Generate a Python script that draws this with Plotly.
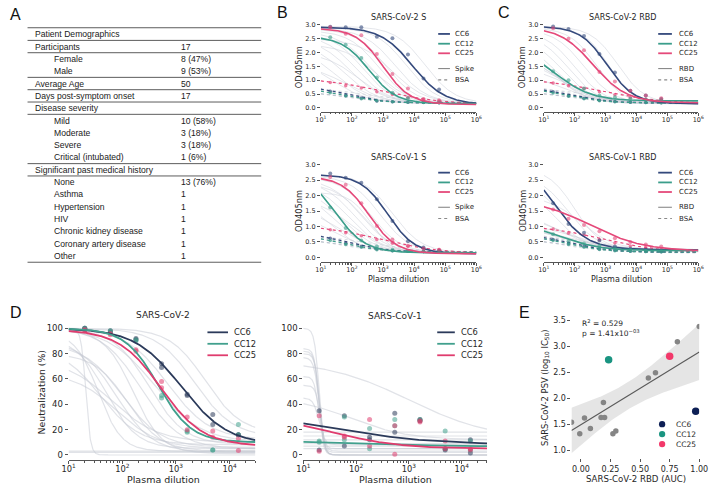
import numpy as np
import plotly.graph_objects as go

W, H = 720, 486
FONT = "DejaVu Sans"
TXT = "#262626"
CC = ["CC6", "CC12", "CC25"]

# ---------------- A: demographics table ----------------
TABLE_LABELS = ["Patient Demographics", "Participants", "Female", "Male", "Average Age",
                "Days post-symptom onset", "Disease severity", "Mild", "Moderate", "Severe",
                "Critical (intubated)", "Significant past medical history", "None", "Asthma",
                "Hypertension", "HIV", "Chronic kidney disease", "Coronary artery disease", "Other"]
TABLE_VALUES = ["", "17", "8 (47%)", "9 (53%)", "50", "17", "", "10 (58%)", "3 (18%)",
                "3 (18%)", "1 (6%)", "", "13 (76%)", "1", "1", "1", "1", "1", "1"]
TABLE_INDENT = [0, 0, 1, 1, 0, 0, 0, 1, 1, 1, 1, 0, 1, 1, 1, 1, 1, 1, 1]
TABLE_RULES_AFTER = [0, 1, 3, 4, 5, 6, 10, 11, 18]

# ---------------- B / C: ELISA (OD405nm) ----------------
# fitted curves given as [top, bottom, log10 EC50, hill]
ELISA_DIL = [20, 63, 200, 632, 2000, 6325, 20000, 63246]

S2S_FIT = {"CC6": [2.92, 0.12, 3.95, 0.85], "CC12": [2.58, 0.15, 2.55, 1.0], "CC25": [2.88, 0.12, 3.0, 1.0]}
S2S_PTS = {"CC6": [2.93, 2.92, 2.92, 2.57, 2.52, 1.93, 1.06, 0.66],
           "CC12": [2.55, 2.28, 1.80, 1.10, 0.55, 0.35, 0.22, 0.20],
           "CC25": [2.92, 2.68, 2.63, 1.95, 1.22, 0.70, 0.32, 0.27]}
S2S_BSA_FIT = {"CC6": [0.78, 0.17, 1.9, 0.75], "CC12": [0.72, 0.17, 1.8, 0.7], "CC25": [1.08, 0.12, 3.0, 0.45]}
S2S_BSA_PTS = {"CC6": [0.60, 0.45, 0.36, 0.25, 0.22, 0.20, 0.20, 0.18],
               "CC12": [0.55, 0.43, 0.33, 0.26, 0.22, 0.20, 0.19, 0.18],
               "CC25": [0.92, 0.80, 0.72, 0.58, 0.48, 0.37, 0.30, 0.25]}
S2S_GREY = [[2.95, 0.15, 4.35, 0.9], [2.9, 0.15, 3.75, 0.9], [2.88, 0.15, 3.4, 0.85],
            [2.85, 0.15, 3.1, 0.9], [2.8, 0.15, 2.85, 0.9], [2.75, 0.15, 2.6, 0.85],
            [2.7, 0.15, 2.35, 0.9], [2.65, 0.15, 2.15, 0.85], [2.55, 0.15, 1.95, 0.8],
            [2.4, 0.15, 1.75, 0.8], [2.3, 0.15, 2.8, 0.8], [2.2, 0.15, 1.5, 0.8],
            [2.0, 0.15, 2.2, 0.8], [1.8, 0.15, 1.4, 0.75], [1.6, 0.15, 1.8, 0.7],
            [2.5, 0.15, 3.3, 0.8]]

S1S_FIT = {"CC6": [2.68, 0.12, 3.15, 1.0], "CC12": [2.8, 0.15, 1.45, 0.9], "CC25": [2.62, 0.12, 2.55, 1.0]}
S1S_PTS = {"CC6": [2.72, 2.58, 2.42, 1.88, 1.18, 0.52, 0.32, 0.22],
           "CC12": [1.62, 0.95, 0.55, 0.35, 0.25, 0.22, 0.20, 0.18],
           "CC25": [2.60, 2.35, 1.75, 1.02, 0.58, 0.38, 0.28, 0.25]}
S1S_BSA_FIT = {"CC6": [0.8, 0.17, 1.9, 0.7], "CC12": [0.72, 0.17, 1.8, 0.7], "CC25": [1.06, 0.12, 2.9, 0.45]}
S1S_BSA_PTS = {"CC6": [0.62, 0.46, 0.35, 0.27, 0.22, 0.20, 0.19, 0.18],
               "CC12": [0.55, 0.42, 0.33, 0.25, 0.22, 0.20, 0.19, 0.18],
               "CC25": [0.90, 0.80, 0.70, 0.58, 0.46, 0.36, 0.30, 0.26]}
S1S_GREY = [[2.7, 0.15, 3.3, 0.9], [2.65, 0.15, 2.9, 0.9], [2.6, 0.15, 2.6, 0.9],
            [2.55, 0.15, 2.3, 0.85], [2.5, 0.15, 2.1, 0.85], [2.45, 0.15, 1.9, 0.8],
            [2.3, 0.15, 1.7, 0.8], [2.2, 0.15, 1.5, 0.8], [2.1, 0.15, 2.6, 1.3],
            [2.0, 0.15, 1.3, 0.8], [1.9, 0.15, 2.0, 0.8], [1.7, 0.15, 1.6, 0.7],
            [2.4, 0.15, 2.4, 0.9], [1.5, 0.15, 1.4, 0.7]]

S2R_FIT = {"CC6": [2.95, 0.15, 3.05, 1.0], "CC12": [2.2, 0.25, 1.4, 0.75], "CC25": [2.93, 0.18, 2.6, 0.8]}
S2R_PTS = {"CC6": [2.94, 2.85, 2.60, 1.95, 1.28, 0.62, 0.45, 0.32],
           "CC12": [1.32, 1.00, 0.70, 0.45, 0.38, 0.33, 0.30, 0.28],
           "CC25": [2.88, 2.50, 2.08, 1.30, 0.95, 0.62, 0.45, 0.35]}
S2R_BSA_FIT = {"CC6": [0.75, 0.17, 1.9, 0.7], "CC12": [0.72, 0.17, 1.8, 0.7], "CC25": [1.05, 0.15, 2.9, 0.45]}
S2R_BSA_PTS = {"CC6": [0.58, 0.44, 0.35, 0.27, 0.23, 0.20, 0.19, 0.18],
               "CC12": [0.54, 0.42, 0.33, 0.26, 0.22, 0.20, 0.19, 0.18],
               "CC25": [0.90, 0.80, 0.70, 0.58, 0.47, 0.37, 0.31, 0.27]}
S2R_GREY = [[2.95, 0.15, 3.4, 1.0], [2.9, 0.15, 2.7, 1.0], [2.85, 0.15, 2.3, 0.9],
            [2.8, 0.15, 2.0, 0.9], [2.7, 0.15, 1.8, 0.9], [2.6, 0.15, 1.6, 0.85],
            [2.5, 0.15, 1.4, 0.8], [2.4, 0.15, 1.3, 0.8], [2.6, 0.15, 1.2, 0.8],
            [2.2, 0.18, 1.3, 0.7], [2.0, 0.18, 1.5, 0.7], [1.8, 0.18, 1.6, 0.7],
            [1.5, 0.18, 1.8, 0.7], [1.4, 0.2, 1.4, 0.65], [2.9, 0.15, 3.1, 1.1]]

S1R_FIT = {"CC6": [3.3, 0.25, 1.3, 0.8], "CC12": [1.1, 0.22, 1.6, 0.7], "CC25": [1.9, 0.2, 2.5, 0.5]}
S1R_PTS = {"CC6": [1.75, 1.08, 0.80, 0.55, 0.35, 0.28, 0.25, 0.22],
           "CC12": [0.75, 0.52, 0.45, 0.38, 0.30, 0.25, 0.22, 0.20],
           "CC25": [1.55, 1.25, 1.05, 0.85, 0.62, 0.50, 0.42, 0.35]}
S1R_BSA_FIT = {"CC6": [0.75, 0.17, 1.9, 0.7], "CC12": [0.72, 0.17, 1.8, 0.7], "CC25": [1.05, 0.15, 2.9, 0.45]}
S1R_BSA_PTS = {"CC6": [0.58, 0.45, 0.36, 0.27, 0.23, 0.20, 0.19, 0.18],
               "CC12": [0.55, 0.42, 0.33, 0.26, 0.22, 0.20, 0.19, 0.18],
               "CC25": [0.92, 0.78, 0.72, 0.57, 0.47, 0.37, 0.31, 0.26]}
S1R_GREY = [[2.9, 0.25, 2.0, 1.0], [2.7, 0.25, 1.8, 0.9], [2.5, 0.25, 1.6, 0.9],
            [2.3, 0.25, 1.4, 0.9], [2.0, 0.25, 2.2, 0.8], [1.5, 0.25, 1.5, 0.7],
            [1.35, 0.25, 1.7, 0.7], [1.25, 0.25, 1.4, 0.7], [1.15, 0.25, 1.9, 0.6],
            [1.1, 0.22, 1.5, 0.6], [1.0, 0.22, 1.7, 0.6], [0.95, 0.22, 2.0, 0.6]]

ELISA_GREY_BSA = [[0.80, 0.15, 2.0, 0.7], [0.72, 0.16, 1.8, 0.7], [0.68, 0.15, 2.2, 0.6],
                  [0.65, 0.18, 1.6, 0.7], [0.60, 0.16, 1.9, 0.6], [0.55, 0.17, 2.3, 0.6],
                  [0.85, 0.15, 1.7, 0.6], [0.75, 0.18, 2.5, 0.55]]

# ---------------- D: pseudovirus neutralization (%) ----------------
NEUT_DIL = [20, 60, 180, 540, 1620, 4860, 14580]
D2_FIT = {"CC6": [100, 8, 3.1, 1.0], "CC12": [100, 10, 2.67, 1.4], "CC25": [99, 7, 2.72, 1.1]}
D2_REP1 = {"CC6": [100, 98, 91, 72, 47, 32, 16], "CC12": [100, 98, 91, 47, 18, 4, 24],
           "CC25": [99, 95, 83, 58, 30, 19, 13]}
D2_REP2 = {"CC6": [100, 97, 92, 69, 48, 24, 16], "CC12": [99, 97, 90, 45, 19, 4, 16],
           "CC25": [98, 96, 82, 53, 20, 14, 3.5]}
D2_GREY = [[100, 0, 1.32, 10], [97, 3, 1.55, 2.0], [93, 5, 1.7, 1.5], [90, 2, 1.9, 1.3],
           [88, 6, 2.0, 1.2], [85, 8, 1.6, 1.2], [80, 3, 2.1, 1.4], [76, 10, 1.8, 1.0],
           [65, 5, 1.9, 1.1], [100, 5, 2.35, 1.2], [100, 8, 2.5, 1.3], [100, 10, 2.6, 1.0],
           [100, 14, 3.35, 1.2], [100, 17, 3.55, 1.3], [100, 12, 2.85, 1.1], [99, 1, 2.2, 1.6],
           [3, 3, 2.0, 1.0], [2, 2, 2.0, 1.0]]

D1_FIT = {"CC6": [35, 8, 1.5, 0.45], "CC12": [11, 6.5, 2.5, 0.5], "CC25": [30, 5, 1.6, 0.7]}
D1_REP1 = {"CC6": [35, 31, 14, 33, 28, 5, 12], "CC12": [11, 30, 21, 28, 28, 19, 11],
           "CC25": [31, 15, 28, 23, 27, 11, 5]}
D1_REP2 = {"CC6": [4, 7, 12, 18, 27, 4, 1.5], "CC12": [10, 12, 5, 23, 27, 5, 4],
           "CC25": [3, 14, 7, 0.5, 26, 5, 4]}
D1_GREY = [[100, 0, 1.3, 10], [84, 0, 1.3, 10], [82, 2, 1.3, 10], [80, 0, 1.31, 10],
           [77, 3, 1.3, 9], [62, 0, 1.3, 10], [55, 5, 1.32, 10], [45, 8, 1.3, 8],
           [75, 12, 3.0, 0.55], [46, 12, 1.9, 0.8], [18, 18, 2, 1], [15, 15, 2, 1],
           [12, 12, 2, 1], [9, 9, 2, 1], [7, 7, 2, 1], [5, 5, 2, 1]]

# ---------------- E: correlation ----------------
E_AUC = [-0.08, -0.01, 0.03, 0.08, 0.17, 0.19, 0.20, 0.27, 0.295, 0.57, 0.63, 0.815, 1.0,
         0.97, 0.234, 0.75]
E_IC50 = [1.54, 1.32, 1.62, 1.42, 1.63, 1.92, 1.63, 1.32, 1.37, 2.39, 2.49, 3.09, 3.38,
          1.75, 2.74, 2.81]
E_DONOR = [""] * 13 + ["CC6", "CC12", "CC25"]

ELISA_COL = {"CC6": "#34497c", "CC12": "#3b9e8b", "CC25": "#e5497a"}
NEUT_COL = {"CC6": "#2b3a5a", "CC12": "#41a08d", "CC25": "#e03c6e"}
E_COL = {"CC6": "#0d1f55", "CC12": "#1a9481", "CC25": "#f2386a"}


def four_pl(x, p):
    top, bottom, c, h = p
    return bottom + (top - bottom) / (1 + 10 ** (h * (np.log10(x) - c)))


def ax(n):
    return ("x", "y") if n == 1 else (f"x{n}", f"y{n}")


fig = go.Figure()


def add_elisa(n, fit, pts, bsa_fit, bsa_pts, grey):
    xa, ya = ax(n)
    xs = np.logspace(1, 6, 240)
    for p in ELISA_GREY_BSA:
        fig.add_trace(go.Scatter(x=xs, y=four_pl(xs, p), mode="lines", xaxis=xa, yaxis=ya,
                                 line=dict(color="rgba(160,170,186,0.4)", width=1, dash="dot")))
    for p in grey:
        fig.add_trace(go.Scatter(x=xs, y=four_pl(xs, p), mode="lines", xaxis=xa, yaxis=ya,
                                 line=dict(color="rgba(205,210,218,0.55)", width=1)))
    for cc in CC:
        col = ELISA_COL[cc]
        fig.add_trace(go.Scatter(x=xs, y=four_pl(xs, bsa_fit[cc]), mode="lines", xaxis=xa, yaxis=ya,
                                 line=dict(color=col, width=1.2, dash="dot")))
        fig.add_trace(go.Scatter(x=ELISA_DIL, y=bsa_pts[cc], mode="markers", xaxis=xa, yaxis=ya,
                                 marker=dict(color=col, size=3.5, opacity=0.7)))
    for cc in CC:
        col = ELISA_COL[cc]
        fig.add_trace(go.Scatter(x=xs, y=four_pl(xs, fit[cc]), mode="lines", xaxis=xa, yaxis=ya,
                                 line=dict(color=col, width=1.6)))
        fig.add_trace(go.Scatter(x=ELISA_DIL, y=pts[cc], mode="markers", xaxis=xa, yaxis=ya,
                                 marker=dict(color=col, size=4, opacity=0.6)))


def add_neut(n, fit, rep1, rep2, grey):
    xa, ya = ax(n)
    xs = np.logspace(1, 4.48, 600)
    for p in grey:
        fig.add_trace(go.Scatter(x=xs, y=four_pl(xs, p), mode="lines", xaxis=xa, yaxis=ya,
                                 line=dict(color="rgba(195,200,210,0.5)", width=1.2)))
    for cc in CC:
        col = NEUT_COL[cc]
        fig.add_trace(go.Scatter(x=NEUT_DIL + NEUT_DIL, y=rep1[cc] + rep2[cc], mode="markers",
                                 xaxis=xa, yaxis=ya, marker=dict(color=col, size=5, opacity=0.55)))
    for cc in CC:
        fig.add_trace(go.Scatter(x=xs, y=four_pl(xs, fit[cc]), mode="lines", xaxis=xa, yaxis=ya,
                                 line=dict(color=NEUT_COL[cc], width=1.8)))


add_elisa(1, S2S_FIT, S2S_PTS, S2S_BSA_FIT, S2S_BSA_PTS, S2S_GREY)
add_elisa(2, S1S_FIT, S1S_PTS, S1S_BSA_FIT, S1S_BSA_PTS, S1S_GREY)
add_elisa(3, S2R_FIT, S2R_PTS, S2R_BSA_FIT, S2R_BSA_PTS, S2R_GREY)
add_elisa(4, S1R_FIT, S1R_PTS, S1R_BSA_FIT, S1R_BSA_PTS, S1R_GREY)
add_neut(5, D2_FIT, D2_REP1, D2_REP2, D2_GREY)
add_neut(6, D1_FIT, D1_REP1, D1_REP2, D1_GREY)

# E: regression with 95% CI band
ex = np.array(E_AUC)
ey = np.array(E_IC50)
slope, icpt = np.polyfit(ex, ey, 1)
resid = ey - (slope * ex + icpt)
s = np.sqrt(np.sum(resid ** 2) / (len(ex) - 2))
sxx = np.sum((ex - ex.mean()) ** 2)
xl = np.linspace(-0.08, 1.0, 120)
yl = slope * xl + icpt
half = 2.145 * s * np.sqrt(1 / len(ex) + (xl - ex.mean()) ** 2 / sxx)
fig.add_trace(go.Scatter(x=np.r_[xl, xl[::-1]], y=np.r_[yl + half, (yl - half)[::-1]],
                         fill="toself", fillcolor="rgba(190,190,190,0.4)", line=dict(width=0),
                         mode="lines", xaxis="x7", yaxis="y7"))
fig.add_trace(go.Scatter(x=xl, y=yl, mode="lines", line=dict(color="#5a5a5a", width=1.1),
                         xaxis="x7", yaxis="y7"))
grey_idx = [i for i, d in enumerate(E_DONOR) if d == ""]
fig.add_trace(go.Scatter(x=ex[grey_idx], y=ey[grey_idx], mode="markers", xaxis="x7", yaxis="y7",
                         marker=dict(color="#858585", size=5.5)))
for cc in CC:
    i = E_DONOR.index(cc)
    fig.add_trace(go.Scatter(x=[E_AUC[i]], y=[E_IC50[i]], mode="markers", xaxis="x7", yaxis="y7",
                             marker=dict(color=E_COL[cc], size=7.5)))

# ---------------- axes ----------------
ELISA_TICKS = [10, 100, 1000, 10000, 100000, 1000000]
ELISA_TICKTEXT = ["10<sup>%d</sup>" % k for k in range(1, 7)]
NEUT_TICKS = [10, 100, 1000, 10000]
NEUT_TICKTEXT = ["10<sup>%d</sup>" % k for k in range(1, 5)]


def xdom(a, b):
    return [a / W, b / W]


def ydom(top, bottom):
    return [1 - bottom / H, 1 - top / H]


def log_x(dom, top_dec, ticks, ticktext, size):
    minor = [k * 10 ** d for d in range(1, top_dec + 1) for k in range(2, 10)]
    return dict(domain=dom, type="log", range=[1, 6 if top_dec == 5 else 4.48],
                tickvals=ticks, ticktext=ticktext, ticks="outside", ticklen=3, tickwidth=0.8,
                tickcolor="#555", showline=True, linecolor="#555", linewidth=0.8,
                ticklabelstandoff=-2,
                showgrid=False, zeroline=False, tickfont=dict(size=size, color=TXT, family=FONT),
                minor=dict(tickvals=minor, ticks="outside", ticklen=1.6, tickwidth=0.6,
                           tickcolor="#555", showgrid=False))


def lin_y(dom, rng, vals, fmt, size):
    return dict(domain=dom, range=rng, tickvals=vals, tickformat=fmt, ticks="outside",
                ticklen=3, tickwidth=0.8, tickcolor="#555", showline=False, showgrid=False,
                zeroline=False, tickfont=dict(size=size, color=TXT, family=FONT))


OD_TICKS = [0, 0.5, 1.0, 1.5, 2.0, 2.5, 3.0]
TOP_Y = ydom(21.2, 111.2)
BOT_Y = ydom(161, 261.6)
layout_axes = {
    "xaxis": log_x(xdom(321, 480), 5, ELISA_TICKS, ELISA_TICKTEXT, 6.5),
    "yaxis": lin_y(TOP_Y, [-0.15, 3.1], OD_TICKS, ".1f", 6.5),
    "xaxis2": log_x(xdom(321, 480), 5, ELISA_TICKS, ELISA_TICKTEXT, 6.5),
    "yaxis2": lin_y(BOT_Y, [-0.15, 3.1], OD_TICKS, ".1f", 6.5),
    "xaxis3": log_x(xdom(549, 707), 5, ELISA_TICKS, ELISA_TICKTEXT, 6.5),
    "yaxis3": lin_y(TOP_Y, [-0.15, 3.1], OD_TICKS, ".1f", 6.5),
    "xaxis4": log_x(xdom(549, 707), 5, ELISA_TICKS, ELISA_TICKTEXT, 6.5),
    "yaxis4": lin_y(BOT_Y, [-0.15, 3.1], OD_TICKS, ".1f", 6.5),
    "xaxis5": log_x(xdom(63, 254), 4, NEUT_TICKS, NEUT_TICKTEXT, 8.3),
    "yaxis5": lin_y(ydom(324.2, 460), [-4, 103], [0, 20, 40, 60, 80, 100], "d", 8.5),
    "xaxis6": log_x(xdom(303, 491), 4, NEUT_TICKS, NEUT_TICKTEXT, 8.3),
    "yaxis6": lin_y(ydom(324.2, 460), [-4, 103], [0, 20, 40, 60, 80, 100], "d", 8.5),
    "xaxis7": dict(domain=xdom(577.3, 708), range=[-0.08, 1.0], tickvals=[0, 0.25, 0.5, 0.75, 1.0],
                   tickformat=".2f", ticks="outside", ticklen=3, tickwidth=0.8, tickcolor="#555",
                   showline=False, showgrid=False, zeroline=False,
                   tickfont=dict(size=8, color=TXT, family=FONT)),
    "yaxis7": lin_y(ydom(313.8, 458), [0.85, 3.62], [1.0, 1.5, 2.0, 2.5, 3.0, 3.5], ".1f", 8),
}
for i in range(2, 8):
    layout_axes[f"xaxis{i}"]["anchor"] = f"y{i}"
    layout_axes[f"yaxis{i}"]["anchor"] = f"x{i}"

# ---------------- text + legends ----------------
ann = []
shapes = []


def label(x, y, text, size, anchor="center", angle=0, family=FONT, color=TXT):
    ann.append(dict(x=x / W, y=1 - y / H, xref="paper", yref="paper", text=text, showarrow=False,
                    xanchor=anchor, yanchor="middle", textangle=angle, borderpad=0,
                    font=dict(size=size, color=color, family=family)))


def hline(x0, x1, y, color, width, dash="solid"):
    shapes.append(dict(type="line", xref="paper", yref="paper", x0=x0 / W, x1=x1 / W,
                       y0=1 - y / H, y1=1 - y / H, line=dict(color=color, width=width, dash=dash)))


# table A
ROW0, ROWH = 33.3, 12.35
hline(21, 260, ROW0 - 6.5, "#333", 0.8)
for i, (lab, val, ind) in enumerate(zip(TABLE_LABELS, TABLE_VALUES, TABLE_INDENT)):
    y = ROW0 + i * ROWH
    label(47 if ind else 28, y, lab, 8.6, "left", family="Liberation Sans", color="#1a1a1a")
    if val:
        label(177, y, val, 8.6, "left", family="Liberation Sans", color="#1a1a1a")
for i in TABLE_RULES_AFTER:
    hline(21, 260, ROW0 + (i + 0.5) * ROWH, "#333", 0.8)

# panel letters
for lt, x, y in [("A", 9, 14), ("B", 282, 12), ("C", 508, 12), ("D", 9, 312), ("E", 529, 312)]:
    label(x, y, lt, 16, family="Liberation Sans", color="#111")

# ELISA titles / axis labels
label(400, 17, "SARS-CoV-2 S", 8)
label(400, 157, "SARS-CoV-1 S", 8)
label(629, 17, "SARS-CoV-2 RBD", 8)
label(629, 157, "SARS-CoV-1 RBD", 8)
for x in (400, 628):
    label(x, 279, "Plasma dilution", 8)
for x in (298, 527):
    label(x, 66, "OD405nm", 8.3, angle=-90)
    label(x, 210, "OD405nm", 8.3, angle=-90)


def elisa_legend(x0, x1, xt, y0, kind):
    ys = [y0, y0 + 9.8, y0 + 19.4, y0 + 34.7, y0 + 46]
    for cc, y in zip(CC, ys[:3]):
        hline(x0, x1, y, ELISA_COL[cc], 1.8)
        label(xt, y, cc, 7, "left")
    hline(x0, x1, ys[3], "#8a8a8a", 1.1)
    label(xt, ys[3], kind, 7, "left")
    hline(x0, x1, ys[4], "#8a8a8a", 1.1, "dot")
    label(xt, ys[4], "BSA", 7, "left")


elisa_legend(441, 453, 457, 33, "Spike")
elisa_legend(441, 453, 457, 172, "Spike")
elisa_legend(666, 680, 686, 33, "RBD")
elisa_legend(666, 680, 686, 172, "RBD")

# D titles / labels / legends
label(160, 315, "SARS-CoV-2", 9)
label(397, 316, "SARS-CoV-1", 9)
label(160, 479, "Plasma dilution", 9.5)
label(397, 479, "Plasma dilution", 9.5)
label(35, 392, "Neutralization (%)", 9.3, angle=-90)
for x0, x1, xt in [(205, 226, 231), (440, 458, 463)]:
    for cc, y in zip(CC, [332, 343.5, 355]):
        hline(x0, x1, y, NEUT_COL[cc], 1.8)
        label(xt, y, cc, 8.3, "left")

# E labels / legend
label(550, 387, "SARS-CoV-2 PSV (log<sub>10</sub> IC<sub>50</sub>)", 8.4, angle=-90)
label(643, 479, "SARS-CoV-2 RBD (AUC)", 8.6)
label(587, 323, "R<sup>2</sup> = 0.529", 7.5, "left")
label(587, 333, "p = 1.41x10<sup>\u221203</sup>", 7.5, "left")
for cc, y in zip(CC, [424, 434, 444]):
    shapes.append(dict(type="circle", xref="paper", yref="paper",
                       x0=(670 - 3.2) / W, x1=(670 + 3.2) / W, y0=1 - (y + 3.2) / H, y1=1 - (y - 3.2) / H,
                       fillcolor=E_COL[cc], line=dict(width=0)))
    label(683, y, cc, 7.5, "left")

fig.update_layout(width=W, height=H, autosize=False, margin=dict(l=0, r=0, t=0, b=0),
                  showlegend=False, plot_bgcolor="white", paper_bgcolor="white",
                  font=dict(family=FONT, color=TXT), annotations=ann, shapes=shapes,
                  **layout_axes)

# page body has a default 8px margin; remove it so the figure fills the window exactly
fig.write_html("out.html", config={"displayModeBar": False},
               post_script="document.body.style.margin='0px';")
